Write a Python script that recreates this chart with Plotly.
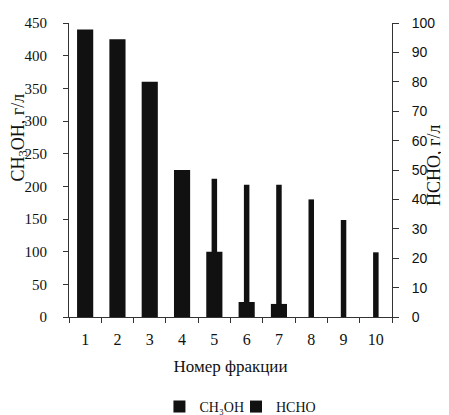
import plotly.graph_objects as go

fractions = ["1", "2", "3", "4", "5", "6", "7", "8", "9", "10"]
ch3oh = [440, 425, 360, 225, 100, 23, 20, 0, 0, 0]
hcho = [0, 0, 0, 0, 47, 45, 45, 40, 33, 22]

serif = "Liberation Serif"
sans = "Liberation Sans"

fig = go.Figure()
fig.add_trace(go.Bar(x=fractions, y=ch3oh, name="CH₃OH", width=0.5,
                     marker=dict(color="#111111", line=dict(width=0)), yaxis="y",
                     legend="legend"))
fig.add_trace(go.Bar(x=fractions, y=hcho, name="HCHO", width=0.17,
                     marker=dict(color="#111111", line=dict(width=0)), yaxis="y2",
                     legend="legend2"))

legend_style = dict(orientation="h", xanchor="left", y=-0.306, yanchor="middle",
                    font=dict(family=serif, size=14, color="#111"),
                    itemwidth=30, bgcolor="rgba(0,0,0,0)")

fig.update_layout(
    width=441, height=407,
    margin=dict(l=61, r=57, t=15, b=98, autoexpand=False),
    paper_bgcolor="white", plot_bgcolor="white",
    barmode="overlay",
    showlegend=True,
    legend=dict(x=0.28, **legend_style),
    legend2=dict(x=0.517, **legend_style),
    xaxis=dict(type="category", tickson="boundaries", ticks="outside", ticklen=5,
               tickcolor="#333", showline=True, linecolor="#333", linewidth=1,
               showgrid=False, automargin=False, ticklabelstandoff=8,
               tickfont=dict(family=serif, size=16, color="#111"),
               title=dict(text="Номер фракции", font=dict(family=serif, size=17, color="#111"),
                          standoff=12)),
    yaxis=dict(range=[0, 450], dtick=50, ticks="outside", ticklen=5, tickcolor="#333",
               showline=True, linecolor="#333", linewidth=1, showgrid=False, zeroline=False,
               automargin=False, ticklabelstandoff=13,
               tickfont=dict(family=serif, size=15, color="#111")),
    yaxis2=dict(range=[0, 100], dtick=10, overlaying="y", side="right", ticks="outside",
                ticklen=6, tickcolor="#333", showline=True, linecolor="#333", linewidth=1,
                showgrid=False, zeroline=False, automargin=False, ticklabelstandoff=10,
                tickfont=dict(family=sans, size=14, color="#111")),
    annotations=[
        dict(text="CH<sub>3</sub>OH, г/л", textangle=-90, xref="paper", yref="paper",
             x=-0.153, y=0.609, xanchor="center", yanchor="middle", showarrow=False,
             font=dict(family=serif, size=18, color="#111")),
        dict(text="HCHO, г/л", textangle=-90, xref="paper", yref="paper",
             x=1.13, y=0.517, xanchor="center", yanchor="middle", showarrow=False,
             font=dict(family=serif, size=18, color="#111")),
    ],
)

fig.write_html("out.html")
